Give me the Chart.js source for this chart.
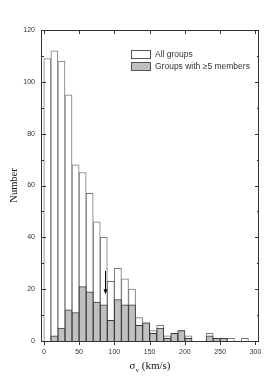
<!DOCTYPE html>
<html>
<head>
<meta charset="utf-8">
<script src="https://cdn.jsdelivr.net/npm/chart.js@4.4.0/dist/chart.umd.min.js"></script>
<style>
  html, body { margin: 0; padding: 0; background: #fff; }
</style>
</head>
<body>
<canvas id="sigmaChart" width="273" height="392"></canvas>
<script>
// velocity dispersion histogram, 10 km/s bins (centres)
const binCenters = [5, 15, 25, 35, 45, 55, 65, 75, 85, 95,
  105, 115, 125, 135, 145, 155, 165, 175, 185, 195,
  205, 215, 225, 235, 245, 255, 265, 275, 285, 295];
const allGroups = [109, 112, 108, 95, 68, 65, 57, 46, 40, 23,
  28, 24, 20, 9, 7, 4, 6, 2, 3, 4,
  2, 0, 0, 3, 1, 1, 1, 0, 1, 0];
const richGroups = [0, 2, 5, 12, 11, 21, 19, 15, 14, 8,
  16, 14, 14, 6, 7, 3, 5, 1, 3, 4,
  1, 0, 0, 2, 1, 1, 0, 0, 0, 0];
const seriesLabels = ["All groups", "Groups with \u22655 members"];
const xTicks = [0, 50, 100, 150, 200, 250, 300];
const yTicks = [0, 20, 40, 60, 80, 100, 120];
const yMinorTicks = [10, 30, 50, 70, 90, 110];
// median marker arrow: x position, y from -> to
const arrowX = [87];
const arrowY = [27, 18];

const axisColor = "#333";
const sans = "'Liberation Sans', Arial, sans-serif";
const serif = "'Liberation Serif', 'Times New Roman', serif";

const framePlugin = {
  id: "frame",
  afterDraw(chart) {
    const ctx = chart.ctx;
    const a = chart.chartArea;
    const xs = chart.scales.x;
    const ys = chart.scales.y;
    ctx.save();
    ctx.strokeStyle = axisColor;
    ctx.lineWidth = 1;
    ctx.strokeRect(Math.round(a.left) + 0.5, Math.round(a.top) + 0.5,
      Math.round(a.right - a.left) - 1, Math.round(a.bottom - a.top));

    ctx.beginPath();
    xTicks.forEach((v) => {
      const px = Math.round(xs.getPixelForValue(v)) + 0.5;
      ctx.moveTo(px, a.bottom);
      ctx.lineTo(px, a.bottom + 4);
      ctx.moveTo(px, a.top);
      ctx.lineTo(px, a.top + 4);
    });
    yTicks.forEach((v) => {
      const py = Math.round(ys.getPixelForValue(v)) + 0.5;
      ctx.moveTo(a.left, py);
      ctx.lineTo(a.left + 5, py);
      ctx.moveTo(a.right, py);
      ctx.lineTo(a.right - 4, py);
    });
    yMinorTicks.forEach((v) => {
      const py = Math.round(ys.getPixelForValue(v)) + 0.5;
      ctx.moveTo(a.left, py);
      ctx.lineTo(a.left + 3, py);
      ctx.moveTo(a.right, py);
      ctx.lineTo(a.right - 2, py);
    });
    ctx.stroke();

    // arrow
    const ax = Math.round(xs.getPixelForValue(arrowX[0])) + 0.5;
    const ay0 = ys.getPixelForValue(arrowY[0]);
    const ay1 = ys.getPixelForValue(arrowY[1]);
    ctx.strokeStyle = "#000";
    ctx.fillStyle = "#000";
    ctx.beginPath();
    ctx.moveTo(ax, ay0);
    ctx.lineTo(ax, ay1 - 4);
    ctx.stroke();
    ctx.beginPath();
    ctx.moveTo(ax - 2, ay1 - 5);
    ctx.lineTo(ax + 2, ay1 - 5);
    ctx.lineTo(ax, ay1);
    ctx.closePath();
    ctx.fill();

    // legend
    const lx = 131, ly = [50, 62];
    const fills = ["#ffffff", "#c0c0c0"];
    ctx.lineWidth = 1;
    ctx.strokeStyle = "#555";
    ctx.font = "8.5px " + sans;
    ctx.textBaseline = "middle";
    seriesLabels.forEach((lab, i) => {
      ctx.fillStyle = fills[i];
      ctx.fillRect(lx + 0.5, ly[i] + 0.5, 19, 8);
      ctx.strokeRect(lx + 0.5, ly[i] + 0.5, 19, 8);
      ctx.fillStyle = "#333";
      ctx.fillText(lab, lx + 24, ly[i] + 4.5);
    });

    // axis titles
    ctx.fillStyle = "#111";
    ctx.font = "10.5px " + serif;
    ctx.save();
    ctx.translate(14, (a.top + a.bottom) / 2);
    ctx.rotate(-Math.PI / 2);
    ctx.textAlign = "center";
    ctx.fillText("Number", 0, 0);
    ctx.restore();

    const mid = (a.left + a.right) / 2;
    ctx.textAlign = "left";
    ctx.textBaseline = "alphabetic";
    const big = "11px " + serif, small = "7px " + serif;
    ctx.font = big;
    const w1 = ctx.measureText("\u03c3").width;
    const w3 = ctx.measureText(" (km/s)").width;
    ctx.font = small;
    const w2 = ctx.measureText("v").width;
    let tx = mid - (w1 + w2 + w3) / 2;
    const base = 369;
    ctx.font = big;
    ctx.fillText("\u03c3", tx, base);
    tx += w1;
    ctx.font = small;
    ctx.fillText("v", tx, base + 2.5);
    tx += w2;
    ctx.font = big;
    ctx.fillText(" (km/s)", tx, base);
    ctx.restore();
  }
};

const ctx = document.getElementById("sigmaChart").getContext("2d");
new Chart(ctx, {
  type: "bar",
  data: {
    datasets: [
      {
        label: seriesLabels[1],
        data: binCenters.map((x, i) => ({ x: x, y: richGroups[i] })),
        backgroundColor: "#c0c0c0",
        borderColor: "#3a3a3a",
        borderWidth: 1,
        order: 1,
      },
      {
        label: seriesLabels[0],
        data: binCenters.map((x, i) => ({ x: x, y: allGroups[i] })),
        backgroundColor: "#ffffff",
        borderColor: "#777",
        borderWidth: 1,
        order: 2,
      },
    ],
  },
  options: {
    responsive: false,
    animation: false,
    devicePixelRatio: 1,
    barPercentage: 1,
    categoryPercentage: 1,
    grouped: false,
    layout: { padding: { top: 30, right: 14, left: 0, bottom: 0 } },
    plugins: {
      legend: { display: false },
      tooltip: { enabled: false },
    },
    scales: {
      x: {
        type: "linear",
        min: -4,
        max: 305,
        offset: false,
        grid: { display: false, drawTicks: false },
        border: { display: false },
        afterBuildTicks: (s) => { s.ticks = xTicks.map((v) => ({ value: v })); },
        afterFit: (s) => { s.height = 51; },
        ticks: {
          padding: 7,
          color: axisColor,
          font: { family: sans, size: 7 },
          maxRotation: 0,
        },
      },
      y: {
        min: 0,
        max: 120,
        grid: { display: false, drawTicks: false },
        border: { display: false },
        afterBuildTicks: (s) => { s.ticks = yTicks.map((v) => ({ value: v })); },
        afterFit: (s) => { s.width = 41; },
        ticks: {
          padding: 6,
          color: axisColor,
          font: { family: sans, size: 7 },
        },
      },
    },
  },
  plugins: [framePlugin],
});
</script>
</body>
</html>
